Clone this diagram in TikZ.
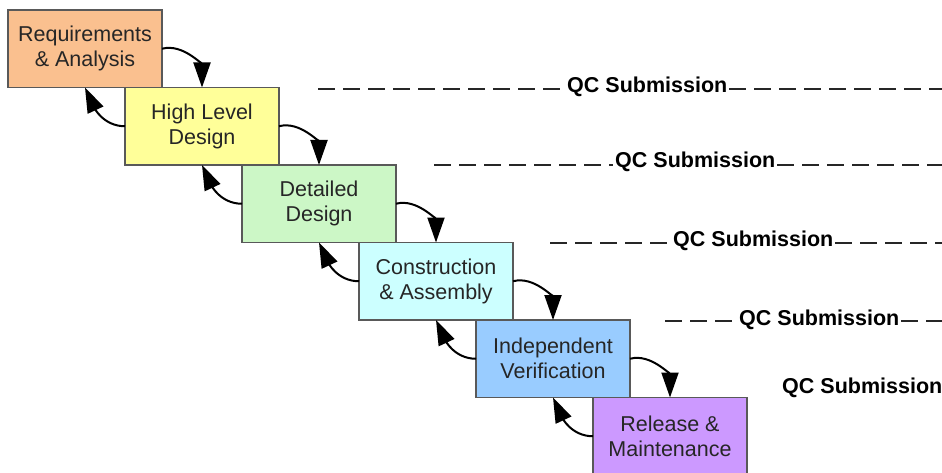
\documentclass[tikz,border=0pt]{standalone}
\usepackage{fontspec}
\setmainfont{Liberation Sans}
\usetikzlibrary{arrows.meta,positioning}
\usepackage{xcolor}
\definecolor{reqorange}{RGB}{250,192,143}
\definecolor{hldyellow}{RGB}{255,255,153}
\definecolor{detgreen}{RGB}{204,247,198}
\definecolor{concyan}{RGB}{204,255,255}
\definecolor{indblue}{RGB}{153,204,255}
\definecolor{relpurple}{RGB}{204,153,255}

\begin{document}
\begin{tikzpicture}[
  x=1pt, y=1pt,
  phase/.style={draw=black!65, line width=1.2pt, minimum width=154pt,
    minimum height=77.5pt, inner sep=0pt, outer sep=0pt, align=center,
    text=black!85, font=\fontsize{21.5}{25}\selectfont},
  flow/.style={-{Triangle[length=25pt,width=17pt]}, line width=2pt},
  qc/.style={anchor=west, inner sep=2pt, font=\fontsize{21.5}{25}\selectfont\bfseries},
  qcline/.style={dash pattern=on 17pt off 8pt, line width=2.2pt, black!85}
]
\useasboundingbox (0,0) rectangle (942,472);

% the waterfall steps
\node[phase, fill=reqorange, anchor=north west] (req) at (8,462) {Requirements\\\& Analysis};
\node[phase, fill=hldyellow, below right=0pt and -37pt of req.south east] (hld) {High Level\\Design};
\node[phase, fill=detgreen, below right=0pt and -37pt of hld.south east] (det) {Detailed\\Design};
\node[phase, fill=concyan, below right=0pt and -37pt of det.south east] (con) {Construction\\\& Assembly};
\node[phase, fill=indblue, below right=0pt and -37pt of con.south east] (ind) {Independent\\Verification};
\node[phase, fill=relpurple, below right=0pt and -37pt of ind.south east] (rel) {Release \&\\Maintenance};

% forward and feedback arrows
\draw[flow] (req.east) to[out=15,in=90] (hld.north);
\draw[flow] (hld.west) to[out=180,in=-65] (req.south);
\draw[flow] (hld.east) to[out=15,in=90] (det.north);
\draw[flow] (det.west) to[out=180,in=-65] (hld.south);
\draw[flow] (det.east) to[out=15,in=90] (con.north);
\draw[flow] (con.west) to[out=180,in=-65] (det.south);
\draw[flow] (con.east) to[out=15,in=90] (ind.north);
\draw[flow] (ind.west) to[out=180,in=-65] (con.south);
\draw[flow] (ind.east) to[out=15,in=90] (rel.north);
\draw[flow] (rel.west) to[out=180,in=-65] (ind.south);

% QC submission gates
\coordinate (s1) at (318,383);
\coordinate (e1) at (942,383);
\coordinate (s2) at (434,307);
\coordinate (e2) at (942,307);
\coordinate (s3) at (550,229);
\coordinate (e3) at (942,229);
\coordinate (s4) at (665,151);
\coordinate (e4) at (942,151);

\node[qc] (qc1) at (565,385) {QC Submission};
\node[qc] (qc2) at (613,310) {QC Submission};
\node[qc] (qc3) at (671,231) {QC Submission};
\node[qc] (qc4) at (737,152) {QC Submission};
\node[qc] (qc5) at (780,84) {QC Submission};

\draw[qcline] (s1) -- (s1 -| qc1.west);
\draw[qcline] (qc1.east |- e1) -- (e1);
\draw[qcline] (s2) -- (s2 -| qc2.west);
\draw[qcline] (qc2.east |- e2) -- (e2);
\draw[qcline] (s3) -- (s3 -| qc3.west);
\draw[qcline] (qc3.east |- e3) -- (e3);
\draw[qcline] (s4) -- (s4 -| qc4.west);
\draw[qcline] (qc4.east |- e4) -- (e4);
\end{tikzpicture}
\end{document}
